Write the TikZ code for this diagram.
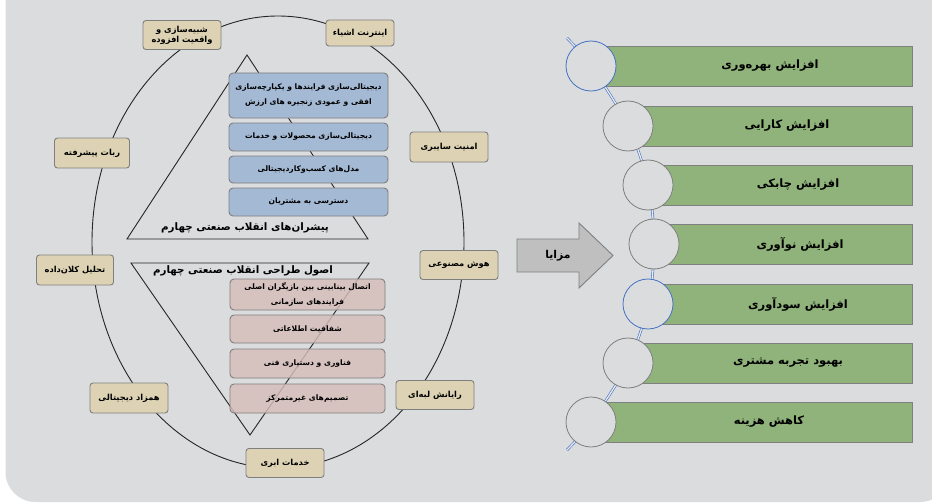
\documentclass[tikz,border=0pt]{standalone}
\usepackage{fontspec}
\TeXXeTstate=1
\newfontfamily\arabicfont[Script=Arabic]{DejaVu Sans}
\newcommand{\pers}[1]{\beginR #1\endR}
\definecolor{bg}{HTML}{DBDCDE}
\definecolor{beige}{HTML}{DDD3B4}
\definecolor{bluebox}{HTML}{A4B9D4}
\definecolor{pinkbox}{HTML}{D5BDB9}
\definecolor{greenbox}{HTML}{8FB37A}
\definecolor{edgegray}{HTML}{7F7F7F}
\definecolor{arrowgray}{HTML}{BFBFBF}
\definecolor{linkblue}{HTML}{4472C4}
\begin{document}
\begin{tikzpicture}[x=1pt,y=-1pt,
  tech/.style={draw=edgegray, line width=0.9pt, fill=beige, rounded corners=3pt,
    minimum width=78pt, minimum height=29pt, inner sep=1pt, align=center,
    font=\arabicfont\fontsize{8.3}{10}\selectfont\bfseries},
  drvbox/.style={draw=edgegray, line width=0.9pt, fill=bluebox, rounded corners=4pt,
    minimum width=159pt, inner sep=1pt, align=center,
    font=\arabicfont\fontsize{7.6}{15}\selectfont\bfseries},
  prinbox/.style={draw=edgegray, line width=0.9pt, fill=pinkbox, fill opacity=0.82, text opacity=1,
    rounded corners=4pt, minimum width=155pt, inner sep=1pt, align=center,
    font=\arabicfont\fontsize{7.6}{15}\selectfont\bfseries},
  ttl/.style={font=\arabicfont\fontsize{10.3}{12}\selectfont\bfseries, inner sep=0pt},
  gbox/.style={draw=edgegray, line width=0.9pt, fill=greenbox, anchor=west,
    minimum height=40pt, inner sep=0pt},
  gtext/.style={font=\arabicfont\fontsize{11.5}{13}\selectfont\bfseries, inner sep=0pt},
  bead/.style={circle, draw=edgegray, line width=0.8pt, fill=bg, minimum size=50pt, inner sep=0pt},
  beadblue/.style={bead, draw=linkblue}
]
\useasboundingbox (0,0) rectangle (932,503);
% panel
\fill[white] (0,0) rectangle (932,503);
\fill[bg, rounded corners=30pt] (5.5,-40) rectangle (950,502);

% ellipse
\draw[line width=0.9pt, black!85] (278,242) ellipse [x radius=186pt, y radius=226pt];

% triangles
\draw[line width=0.9pt, black!85] (247,55) -- (127,239) -- (368,239) -- cycle;
\draw[line width=0.9pt, black!85] (131,263) -- (369,263) -- (250,435) -- cycle;

% drivers
\node[drvbox, minimum height=45pt] (b1) at (308.5,95.5) {\pers{دیجیتالی‌سازی فرایندها و یکپارچه‌سازی}\\\pers{افقی و عمودی زنجیره های ارزش}};
\node[drvbox, minimum height=28pt] (b2) at (308.5,137) {\pers{دیجیتالی‌سازی محصولات و خدمات}};
\node[drvbox, minimum height=27pt] (b3) at (308.5,169.5) {\pers{مدل‌های کسب‌وکاردیجیتالی}};
\node[drvbox, minimum height=28pt] (b4) at (308.5,202) {\pers{دسترسی به مشتریان}};
\node[ttl] (t1) at (245,228) {\pers{پیشران‌های انقلاب صنعتی چهارم}};

% principles
\node[ttl] (t2) at (243,271) {\pers{اصول طراحی انقلاب صنعتی چهارم}};
\node[prinbox, minimum height=31pt] (p1) at (307.5,294.5) {\pers{اتصال بینابینی بین بازیگران اصلی}\\\pers{فرایندهای سازمانی}};
\node[prinbox, minimum height=28pt] (p2) at (307.5,329) {\pers{شفافیت اطلاعاتی}};
\node[prinbox, minimum height=29pt] (p3) at (307.5,363.5) {\pers{فناوری و دستیاری فنی}};
\node[prinbox, minimum height=29pt] (p4) at (307.5,398.5) {\pers{تصمیم‌های غیرمتمرکز}};

% technologies
\node[tech] (k1) at (182,35) {\pers{شبیه‌سازی و}\\\pers{واقعیت افزوده}};
\node[tech, minimum width=68pt, minimum height=26pt] (k2) at (360,33) {\pers{اینترنت اشیاء}};
\node[tech, minimum width=75pt, minimum height=30pt] (k3) at (92,153) {\pers{ربات پیشرفته}};
\node[tech, minimum width=77pt, minimum height=30pt] (k4) at (75,270) {\pers{تحلیل کلان‌داده}};
\node[tech, minimum height=30pt] (k5) at (129,398) {\pers{همزاد دیجیتالی}};
\node[tech] (k6) at (285,463) {\pers{خدمات ابری}};
\node[tech] (k7) at (435,395) {\pers{رایانش لبه‌ای}};
\node[tech] (k8) at (459,265) {\pers{هوش مصنوعی}};
\node[tech, minimum height=30pt] (k9) at (449,147) {\pers{امنیت سایبری}};

% arrow
\draw[draw=edgegray, line width=0.9pt, fill=arrowgray] (517,239) -- (579,239) -- (579,223) -- (613,255.5) -- (579,288) -- (579,272) -- (517,272) -- cycle;
\node[gtext, font=\arabicfont\fontsize{10.8}{13}\selectfont\bfseries] (mz) at (558,255.5) {\pers{مزایا}};

% benefit chain
\coordinate (ctop) at (567,38);
\coordinate (c1) at (591,66);
\coordinate (c2) at (628,126);
\coordinate (c3) at (648,185);
\coordinate (c4) at (654,244);
\coordinate (c5) at (648,304);
\coordinate (c6) at (628,363);
\coordinate (c7) at (591,422);
\coordinate (cbot) at (567,450);
\draw[draw=linkblue, line width=0.6pt, double=bg!60!white, double distance=1.3pt]
  plot[smooth, tension=0.6] coordinates {(ctop) (c1) (c2) (c3) (c4) (c5) (c6) (c7) (cbot)};

\node[gbox, minimum width=321pt] (g1) at (c1) {};
\node[gbox, minimum width=284pt] (g2) at (c2) {};
\node[gbox, minimum width=264pt] (g3) at (c3) {};
\node[gbox, minimum width=258pt] (g4) at (c4) {};
\node[gbox, minimum width=264pt] (g5) at (c5) {};
\node[gbox, minimum width=284pt] (g6) at (c6) {};
\node[gbox, minimum width=321pt] (g7) at (c7) {};

\node[gtext] (g1t) at (770,66) {\pers{افزایش بهره‌وری}};
\node[gtext] (g2t) at (787,126) {\pers{افزایش کارایی}};
\node[gtext] (g3t) at (798,185) {\pers{افزایش چابکی}};
\node[gtext] (g4t) at (800,244) {\pers{افزایش نوآوری}};
\node[gtext] (g5t) at (798,304) {\pers{افزایش سودآوری}};
\node[gtext] (g6t) at (788,363) {\pers{بهبود تجربه مشتری}};
\node[gtext] (g7t) at (769,422) {\pers{کاهش هزینه}};

\node[beadblue] (o1) at (c1) {};
\node[bead] (o2) at (c2) {};
\node[bead] (o3) at (c3) {};
\node[bead] (o4) at (c4) {};
\node[beadblue] (o5) at (c5) {};
\node[bead] (o6) at (c6) {};
\node[bead] (o7) at (c7) {};
\end{tikzpicture}
\end{document}
